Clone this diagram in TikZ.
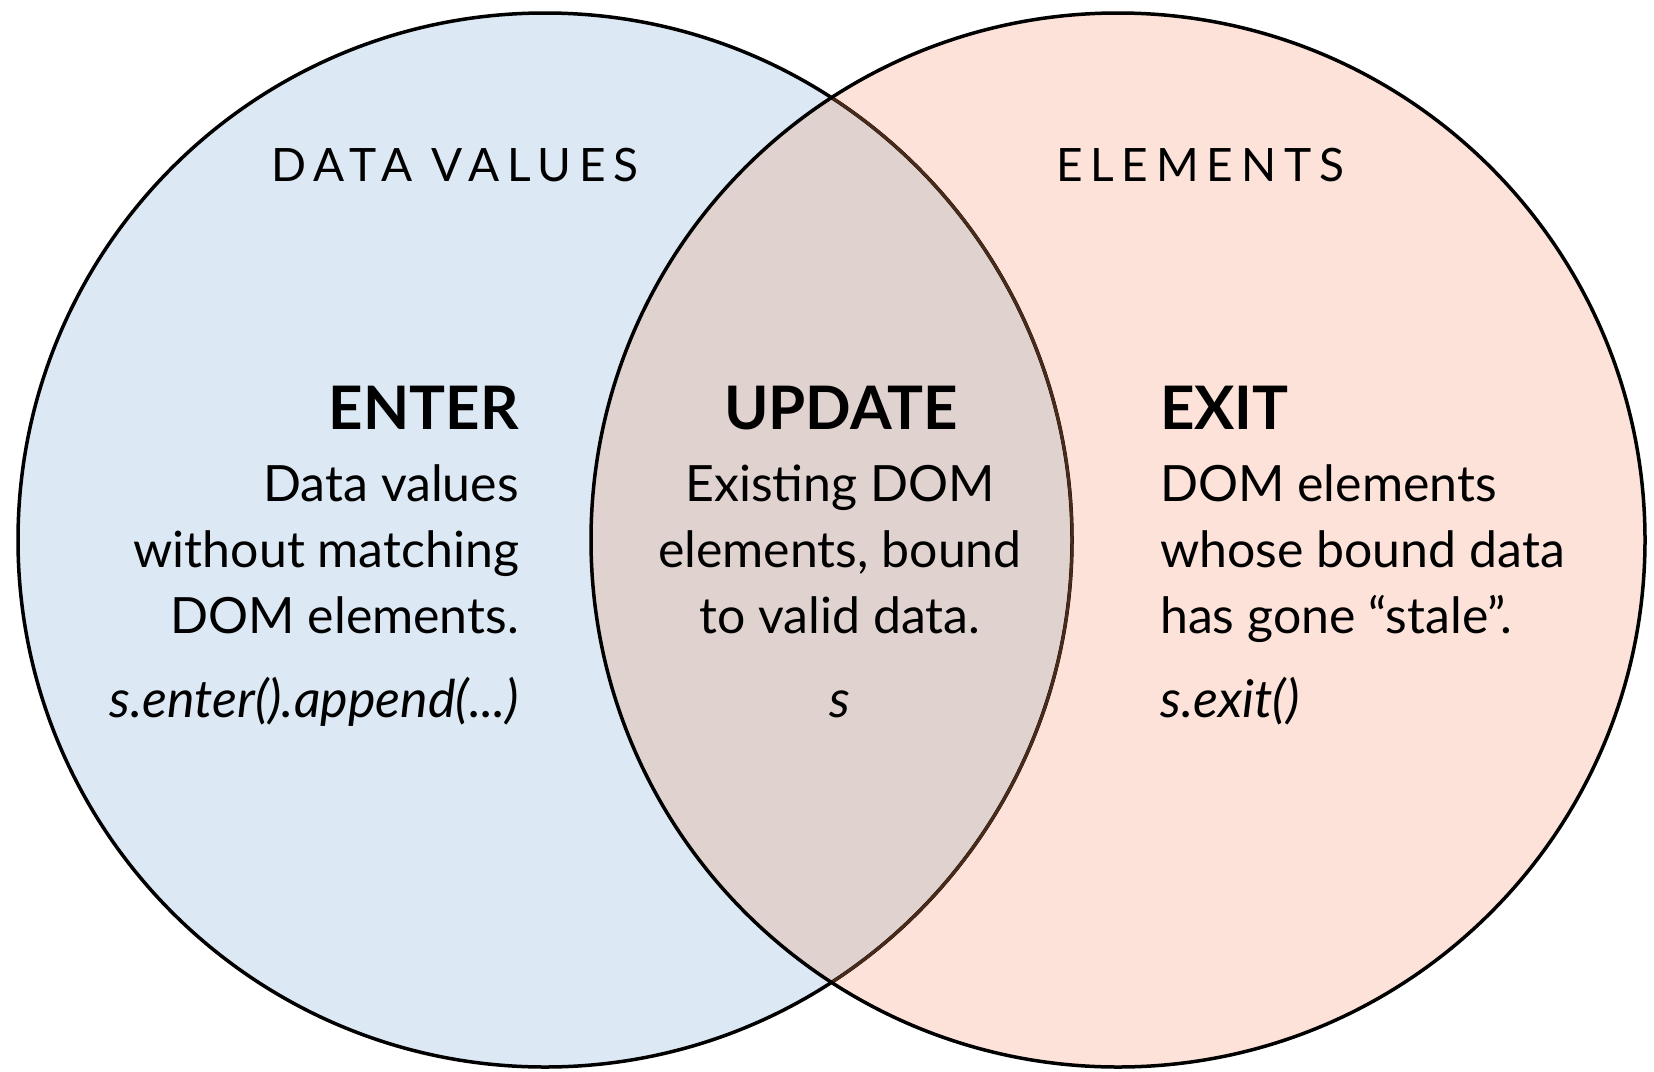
\documentclass[tikz,border=0pt]{standalone}
\usepackage{fontspec}
\setmainfont{Lato}
\newfontfamily\spacedfont[LetterSpace=17]{Lato}
\definecolor{setblue}{HTML}{DCE8F3}
\definecolor{setpeach}{HTML}{FCE2D8}
\definecolor{setmix}{HTML}{E0D3CF}
\definecolor{arcbrown}{HTML}{4A2A18}
\begin{document}
\begin{tikzpicture}[x=1pt,y=-1pt,
  ring/.style={line width=3.5pt, black},
  setname/.style={inner sep=0pt, font=\spacedfont\fontsize{46}{56}\selectfont},
  headtxt/.style={inner sep=0pt, font=\fontsize{60}{70}\bfseries\selectfont},
  bodytxt/.style={inner sep=0pt, font=\fontsize{50}{60}\selectfont},
  codetxt/.style={inner sep=0pt, font=\fontsize{52}{60}\itshape\selectfont}]
\useasboundingbox (0,0) rectangle (1654,1071);
\coordinate (cA) at (545,540);
\coordinate (cB) at (1118,540);
% fills
\fill[setblue] (cA) circle[radius=527pt];
\fill[setpeach] (cB) circle[radius=527pt];
\begin{scope}
  \clip (cA) circle[radius=527pt];
  \fill[setmix] (cB) circle[radius=527pt];
\end{scope}
% outlines
\draw[ring] (cA) circle[radius=527pt];
\begin{scope}
  \clip (cB) circle[radius=527pt];
  \draw[ring, arcbrown, line width=3pt] (cA) circle[radius=527pt];
\end{scope}
\draw[ring] (cB) circle[radius=527pt];
% set names
\node[setname, anchor=base] (dv) at (455,181) {DATA VALUES};
\node[setname, anchor=base] (el) at (1200,181) {ELEMENTS};
% ENTER
\node[headtxt, anchor=base east] (enterH) at (519,429) {ENTER};
\node[bodytxt, anchor=base east] (enter1) at (519,501) {Data values};
\node[bodytxt, anchor=base east] (enter2) at (519,567) {without matching};
\node[bodytxt, anchor=base east] (enter3) at (519,633) {DOM elements.};
\node[codetxt, anchor=base east] (enterC) at (519,717) {s.enter().append(...)};
% UPDATE
\node[headtxt, anchor=base] (updH) at (841,429) {UPDATE};
\node[bodytxt, anchor=base] (upd1) at (840,501) {Existing DOM};
\node[bodytxt, anchor=base] (upd2) at (840,567) {elements, bound};
\node[bodytxt, anchor=base] (upd3) at (840,633) {to valid data.};
\node[codetxt, anchor=base] (updC) at (840,717) {s};
% EXIT
\node[headtxt, anchor=base west] (exitH) at (1160,429) {EXIT};
\node[bodytxt, anchor=base west] (exit1) at (1160,501) {DOM elements};
\node[bodytxt, anchor=base west] (exit2) at (1160,567) {whose bound data};
\node[bodytxt, anchor=base west] (exit3) at (1160,633) {has gone “stale”.};
\node[codetxt, anchor=base west] (exitC) at (1160,717) {s.exit()};
\end{tikzpicture}
\end{document}
